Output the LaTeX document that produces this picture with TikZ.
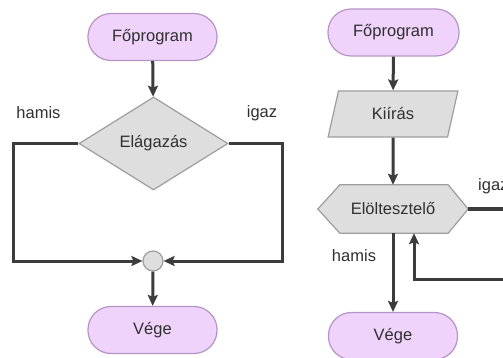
\documentclass[tikz,border=0pt]{standalone}
\usepackage{fontspec}
\setmainfont{Liberation Sans}
\usetikzlibrary{shapes.geometric,arrows.meta}
\pgfdeclarelayer{paper}
\pgfdeclarelayer{behind}
\pgfsetlayers{paper,behind,main}
\definecolor{termfill}{HTML}{EFD3FB}
\definecolor{termdraw}{HTML}{B595C6}
\definecolor{grayfill}{HTML}{DEDEDE}
\definecolor{graydraw}{HTML}{9E9E9E}
\definecolor{linec}{HTML}{3C3C3C}
\definecolor{txtc}{HTML}{303030}
\tikzset{
  x=1pt, y=-1pt,
  every node/.style={font=\fontsize{16.5}{18}\selectfont, text=txtc},
  term/.style={draw=termdraw, fill=termfill, line width=1.2pt, rounded corners=23pt, minimum width=129pt, minimum height=47pt, inner sep=0pt},
  dia/.style={diamond, draw=graydraw, fill=grayfill, line width=1.2pt, minimum width=149pt, minimum height=93pt, inner sep=0pt, aspect=1.6},
  para/.style={trapezium, trapezium left angle=72, trapezium right angle=108, trapezium stretches=true, draw=graydraw, fill=grayfill, line width=1.2pt, minimum width=130pt, minimum height=46pt, inner sep=0pt},
  hexbox/.style={minimum width=150pt, minimum height=48pt, inner sep=0pt},
  hexline/.style={draw=graydraw, fill=grayfill, line width=1.2pt},
  joint/.style={circle, draw=graydraw, fill=grayfill, line width=1.2pt, minimum size=20pt, inner sep=0pt},
  conn/.style={draw=linec, line width=3pt},
  arr/.style={conn, -{Stealth[length=11pt, width=10pt, inset=2pt]}},
  lbl/.style={inner sep=0pt},
}
\begin{document}
\begin{tikzpicture}
\clip (0,0) rectangle (503,358);
\begin{pgfonlayer}{paper}
\fill[white] (0,0) rectangle (503,358);
\end{pgfonlayer}
% ---------- left diagram ----------
\node[term] (fp1) at (152.5,37) {Főprogram};
\node[dia] (d) at (153.5,143.5) {Elágazás};
\node[joint] (c) at (153,261) {};
\node[term] (v1) at (152.5,330) {Vége};
\node[lbl] (hamis1) at (38.5,113) {hamis};
\node[lbl] (igaz1) at (262,113) {igaz};
\coordinate (lt) at (13,143.5);
\coordinate (lb) at (13,261);
\coordinate (rt) at (282,143.5);
\coordinate (rb) at (282,261);
\draw[arr] (fp1) -- (d);
\draw[arr] (d.west) -- (lt) -- (lb) -- (c.west);
\draw[arr] (d.east) -- (rt) -- (rb) -- (c.east);
\draw[arr] (c) -- (v1);
% ---------- right diagram ----------
\node[term, minimum width=131pt] (fp2) at (393.5,32.5) {Főprogram};
\node[para] (k) at (393,114) {Kiírás};
\node[hexbox] (h) at (393,209) {Elöltesztelő};
\begin{pgfonlayer}{behind}
\path[hexline] (h.west) -- ([xshift=22pt]h.north west) -- ([xshift=-20pt]h.north east) -- (h.east) -- ([xshift=-20pt]h.south east) -- ([xshift=22pt]h.south west) -- cycle;
\end{pgfonlayer}
\node[term] (v2) at (393,336) {Vége};
\node[lbl, anchor=west] (igaz2) at (478,186) {igaz};
\node[lbl] (hamis2) at (354,256) {hamis};
\coordinate (hr) at (515,209);
\coordinate (lr) at (515,279);
\coordinate (lx) at (414,279);
\draw[arr] (fp2) -- (k);
\draw[arr] (k) -- (h);
\draw[conn] (h.east) -- (hr);
\draw[arr] (lr) -- (lx) -- (lx |- h.south);
\draw[arr] (h) -- (v2);
\end{tikzpicture}
\end{document}
